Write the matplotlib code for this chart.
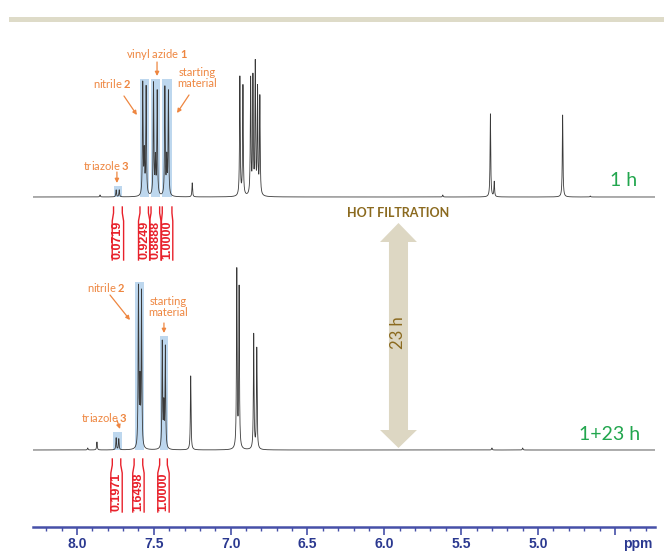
import matplotlib.pyplot as plt
import numpy as np
from matplotlib.patches import Rectangle, Polygon
from matplotlib.ticker import MultipleLocator

# ---- spectrum data (ppm, peak height in px above baseline) ----
top_ppm = [7.85, 7.745, 7.725, 7.572, 7.562, 7.550, 7.502, 7.490, 7.478, 7.428, 7.416, 7.405,
           7.25, 6.94, 6.92, 6.87, 6.855, 6.84, 6.825, 6.81, 5.62, 5.31, 5.285, 4.84, 4.66]
top_height = [2, 7, 7, 112, 40, 108, 112, 35, 104, 108, 35, 104,
              14, 119, 110, 116, 116, 130, 105, 98, 2, 83, 15, 82, 1]

bot_ppm = [7.93, 7.87, 7.745, 7.728, 7.600, 7.590, 7.580, 7.445, 7.435, 7.425,
           7.26, 6.96, 6.945, 6.85, 6.83, 5.30, 5.10]
bot_height = [2, 8, 12, 11, 160, 60, 155, 106, 40, 101,
              74, 178, 160, 115, 101, 2, 2]

# highlighted regions (ppm from, ppm to, box height)
top_boxes = [(7.759, 7.707, 11), (7.590, 7.532, 118), (7.519, 7.460, 118), (7.447, 7.382, 118)]
bot_boxes = [(7.766, 7.707, 18), (7.623, 7.564, 168), (7.460, 7.408, 114)]

# integrals
top_int_ranges = [(7.762, 7.705), (7.590, 7.535), (7.518, 7.462), (7.445, 7.382)]
top_int_values = ["0.0719", "0.9249", "0.8888", "1.0000"]
bot_int_ranges = [(7.770, 7.715), (7.628, 7.572), (7.462, 7.412)]
bot_int_values = ["0.1971", "1.6498", "1.0000"]

top_base = 330
bot_base = 77
ppm_left, ppm_right = 8.286, 4.239

line_col = '#3a3a3a'
box_col = '#BDD7EE'
orange = '#EE8640'
red = '#E8212B'
green = '#22A64E'
brown = '#8B6A1F'
blue_axis = '#4650A8'
blue_text = '#2B3990'

plt.rcParams['mathtext.fontset'] = 'custom'
plt.rcParams['mathtext.bf'] = 'Lato:bold'

x = np.linspace(ppm_left, ppm_right, 40000)


def spectrum(ppms, heights, width=0.0025):
    y = np.zeros_like(x)
    for p, h in zip(ppms, heights):
        y += h / (1 + ((x - p) / width) ** 2)
    return y


fig = plt.figure(figsize=(6.64, 5.52), dpi=100)
ax = fig.add_axes([33 / 664, 25 / 552, 622 / 664, 527 / 552])
ax.set_xlim(ppm_left, ppm_right)
ax.set_ylim(0, 527)
ax.patch.set_alpha(0)
for s in ['left', 'right', 'top']:
    ax.spines[s].set_visible(False)
ax.spines['bottom'].set_color(blue_axis)
ax.spines['bottom'].set_linewidth(1.8)
ax.set_yticks([])

majors = [8.0, 7.5, 7.0, 6.5, 6.0, 5.5, 5.0, 4.5]
ax.set_xticks(majors)
ax.set_xticklabels(['%.1f' % m if m > 4.6 else '' for m in majors],
                   fontfamily='Liberation Sans', fontweight='bold', fontsize=10, color=blue_text)
ax.xaxis.set_minor_locator(MultipleLocator(0.1))
ax.tick_params(axis='x', which='major', direction='out', length=6, width=1.2, color=blue_axis, pad=1)
ax.tick_params(axis='x', which='minor', direction='out', length=3, width=1, color=blue_axis)
ax.text(4.35, -17, 'ppm', fontfamily='Liberation Sans', fontweight='bold', fontsize=10,
        color=blue_text, ha='center', va='center', clip_on=False)

# beige band at top
fig.add_artist(Rectangle((9 / 664, 1 - 22 / 552), 655 / 664, 5 / 552,
                         transform=fig.transFigure, color='#DEDBC8', lw=0))

# highlight boxes
for lo, hi, h in top_boxes:
    ax.add_patch(Rectangle((hi, top_base), lo - hi, h, color=box_col, lw=0, zorder=1))
for lo, hi, h in bot_boxes:
    ax.add_patch(Rectangle((hi, bot_base), lo - hi, h, color=box_col, lw=0, zorder=1))

# spectra
ax.plot(x, top_base + spectrum(top_ppm, top_height), color=line_col, lw=0.6, zorder=2)
ax.plot(x, bot_base + spectrum(bot_ppm, bot_height), color=line_col, lw=0.6, zorder=2)


def integral(lo, hi, label, ytop):
    mid = (lo + hi) / 2
    hw = 0.037
    for edge, sign in [(lo, 1), (hi, -1)]:
        ax.plot([edge, edge, mid + sign * hw, mid + sign * hw],
                [ytop, ytop - 6, ytop - 14, ytop - 53], color=red, lw=1)
    ax.text(mid, ytop - 33, label, rotation=90, ha='center', va='center', color=red,
            fontfamily='Liberation Sans', fontweight='bold', fontsize=9)


for (lo, hi), v in zip(top_int_ranges, top_int_values):
    integral(lo, hi, v, 320)
for (lo, hi), v in zip(bot_int_ranges, bot_int_values):
    integral(lo, hi, v, 68)


def label(text, xy, start, end):
    ax.text(xy[0], xy[1], text, ha='center', va='center', color=orange,
            fontfamily='Lato', fontsize=8, linespacing=1.0)
    ax.annotate('', xy=end, xytext=start,
                arrowprops=dict(arrowstyle='-|>', color=orange, lw=0.9, mutation_scale=6,
                                shrinkA=0, shrinkB=0))


label(r'vinyl azide $\mathbf{1}$', (7.479, 472), (7.479, 465), (7.479, 451))
label(r'nitrile $\mathbf{2}$', (7.766, 444), (7.694, 431), (7.610, 412))
label('starting\nmaterial', (7.219, 449), (7.271, 432), (7.349, 414))
label(r'triazole $\mathbf{3}$', (7.805, 361), (7.740, 355), (7.740, 344))

label(r'nitrile $\mathbf{2}$', (7.811, 240), (7.785, 232), (7.655, 207))
label('starting\nmaterial', (7.408, 220), (7.434, 204), (7.434, 194))
label(r'triazole $\mathbf{3}$', (7.818, 110), (7.740, 107), (7.720, 98))

# time labels
ax.text(4.441, 346, '1 h', color=green, fontfamily='Lato', fontsize=14, ha='center', va='center')
ax.text(4.532, 93, '1+23 h', color=green, fontfamily='Lato', fontsize=14, ha='center', va='center')

# hot filtration arrow
cx = 5.908
sh, hh = 0.062, 0.120
arrow_pts = [(cx, 304), (cx - hh, 285), (cx - sh, 285), (cx - sh, 97), (cx - hh, 97),
             (cx, 79), (cx + hh, 97), (cx + sh, 97), (cx + sh, 285), (cx + hh, 285)]
ax.add_patch(Polygon(arrow_pts, closed=True, color='#DDD7C3', lw=0, zorder=1))
ax.text(cx, 314, 'HOT FILTRATION', color=brown, fontfamily='Lato', fontweight='bold',
        fontsize=9, ha='center', va='center')
ax.text(cx, 194, '23 h', color=brown, fontfamily='Lato', fontsize=12, rotation=90,
        ha='center', va='center')

fig.savefig('out.png', dpi=100)
